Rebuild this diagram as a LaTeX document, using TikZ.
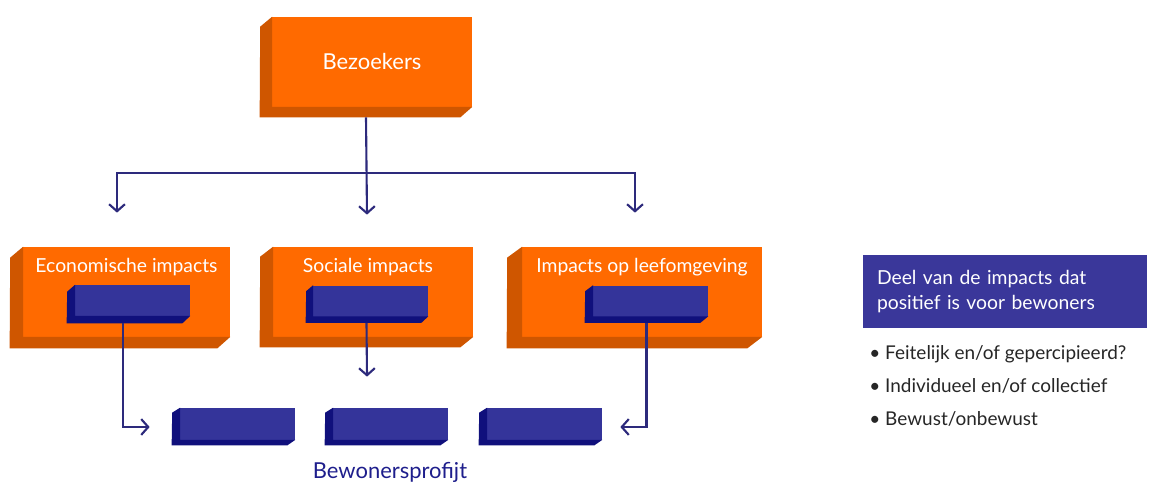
\documentclass[tikz,border=0pt]{standalone}
\usepackage{fontspec}
\setmainfont{Lato}
\usetikzlibrary{arrows.meta}
\usetikzlibrary{positioning}

\definecolor{oranje}{HTML}{FF6A00}
\definecolor{oranjezij}{HTML}{CF5600}
\definecolor{blauw}{HTML}{34349A}
\definecolor{blauwzij}{HTML}{10107C}
\definecolor{lijnkleur}{HTML}{2D2A7C}
\definecolor{kader}{HTML}{3A379A}
\definecolor{tekstblauw}{HTML}{1E1E8C}

\newcommand{\pxl}{0.02cm}
% zijvlak linksonder van een blok: node, dx, dy, kleur
\newcommand{\zijvlak}[4]{%
  \fill[#4] ([xshift=0.3pt]#1.north west) -- ++(-#2,#3) -- ([shift={(-#2,#3)}]#1.south west)
    -- ([shift={(-#2,#3)}]#1.south east) -- ([yshift=0.3pt]#1.south east)
    -- ([shift={(0.3pt,0.3pt)}]#1.south west) -- cycle;}

\begin{document}
\begin{tikzpicture}[x=0.02cm, y=-0.02cm, >={Straight Barb[length=4pt,width=9pt]}]
	\tikzstyle{blok} = [fill=oranje, minimum height=90*\pxl, inner sep=0pt, text=white]
	\tikzstyle{balk} = [fill=blauw, minimum width=115*\pxl, minimum height=31*\pxl, inner sep=0pt]
	\tikzstyle{titel} = [text=white, font=\fontsize{11}{13}\selectfont, inner sep=0pt]
	\tikzstyle{lijn} = [draw=lijnkleur, line width=1.2pt]
	\tikzstyle{pijl} = [lijn, ->]

	\useasboundingbox (0,0) rectangle (1150,483);

	% bezoekers
	\node[blok, minimum width=200*\pxl, font=\fontsize{12.5}{15}\selectfont] (bez) at (372,62) {Bezoekers};
	\zijvlak{bez}{12}{10}{oranjezij}

	% drie soorten impacts
	\node[blok, minimum width=207*\pxl] (eco) at (126.5,292) {};
	\zijvlak{eco}{13}{11}{oranjezij}
	\node[blok, minimum width=200*\pxl] (soc) at (373,292) {};
	\zijvlak{soc}{13}{10}{oranjezij}
	\node[blok, minimum width=240*\pxl] (imp) at (642,292) {};
	\zijvlak{imp}{15}{11}{oranjezij}

	\node[titel, anchor=base] (ecot) at ([shift={(0,26)}]eco.north) {Economische impacts};
	\node[titel, anchor=base] (soct) at ([shift={(-5,26)}]soc.north) {Sociale impacts};
	\node[titel, anchor=base] (impt) at ([shift={(0,26)}]imp.north) {Impacts op leefomgeving};

	\node[balk] (ecob) at (132.5,300.5) {};
	\zijvlak{ecob}{8}{7}{blauwzij}
	\node[balk] (socb) at (370.5,301) {};
	\zijvlak{socb}{7}{6}{blauwzij}
	\node[balk] (impb) at (650.5,301) {};
	\zijvlak{impb}{8}{6}{blauwzij}

	% bewonersprofijt
	\node[balk, minimum height=32*\pxl] (bew1) at (237.5,424) {};
	\zijvlak{bew1}{8}{5}{blauwzij}
	\node[balk, minimum height=32*\pxl] (bew2) at (390.5,424) {};
	\zijvlak{bew2}{8}{5}{blauwzij}
	\node[balk, minimum height=32*\pxl] (bew3) at (544.5,424) {};
	\zijvlak{bew3}{8}{5}{blauwzij}
	\node[text=tekstblauw, font=\fontsize{12.5}{15}\selectfont] (bew) at (390,472) {Bewonersprofijt};

	% kader rechts
	\node[fill=kader, text=white, minimum width=284*\pxl, minimum height=73*\pxl,
	  text width=256*\pxl, inner xsep=14*\pxl, align=left,
	  font=\fontsize{11}{14.5}\selectfont] (deel) at (1005,291.5)
	  {Deel van de impacts dat\\positief is voor bewoners};
	\node[anchor=north west, align=left, text=black!85, inner sep=0pt,
	  font=\fontsize{10.8}{18.8}\selectfont] (punten) at (869,345)
	  {\textbullet\ Feitelijk en/of gepercipieerd?\\
	   \textbullet\ Individueel en/of collectief\\
	   \textbullet\ Bewust/onbewust};

	% verbindingen
	\coordinate (bezvoet) at ([shift={(-6,10)}]bez.south);
	\coordinate (splits) at (bezvoet |- 0,173);
	\draw[pijl] (bezvoet) -- ([shift={(-6,-32)}]soc.north);
	\draw[pijl] (splits) -| ([shift={(-9.5,-34)}]eco.north);
	\draw[pijl] (splits) -| ([shift={(-7,-34)}]imp.north);

	\draw[pijl] ([shift={(-9.5,7)}]ecob.south) |- ([shift={(-30,3)}]bew1.west);
	\draw[pijl] ([shift={(-4,6)}]socb.south) -- ([shift={(-23.5,-31)}]bew2.north);
	\draw[pijl] ([shift={(-4,6)}]impb.south) |- ([shift={(18,3)}]bew3.east);
\end{tikzpicture}
\end{document}
